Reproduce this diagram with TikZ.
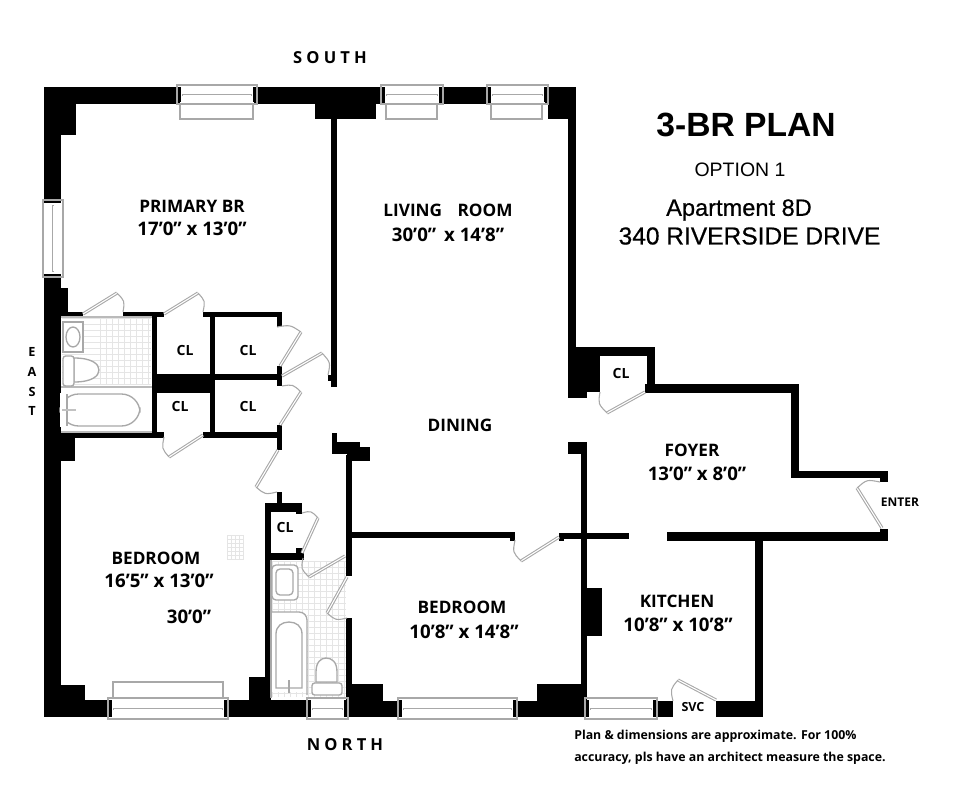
\documentclass[tikz,border=0pt]{standalone}
\usepackage{fontspec}
\usetikzlibrary{calc}
\setmainfont{Open Sans}
\newfontfamily\helv{Liberation Sans}
\newfontfamily\helvm{Liberation Sans}[FakeBold=0.6]
\newfontfamily\spaced{Open Sans}[LetterSpace=25]
\definecolor{fix}{gray}{0.66}
\definecolor{tilec}{gray}{0.9}
\tikzset{
  wall/.style={fill=black},
  fixture/.style={draw=fix,line width=1pt,fill=white},
  glass/.style={draw=fix,line width=1pt,fill=white},
  tile/.style={draw=tilec,line width=0.4pt},
  lab/.style={font=\bfseries\fontsize{12.9}{15}\selectfont,inner sep=0pt,text=black},
  dim/.style={font=\bfseries\fontsize{14}{16}\selectfont,inner sep=0pt,text=black},
  small/.style={font=\bfseries\fontsize{10.5}{12}\selectfont,inner sep=0pt,text=black},
  title/.style={font=\helv,inner sep=0pt,text=black},
}
% door: hinge, tip, end of swing
\newcommand\doorat[3]{%
  \draw[fix,line width=2.4pt] (#1) -- (#2);
  \draw[white,line width=0.8pt] (#1) -- (#2);
  \draw[fix,line width=0.8pt] (#2) .. controls ($(#2)!0.5!(#3)+0.065*(#2)+0.065*(#3)-0.13*(#1)$) .. (#3);
}
% horizontal window: x1,x2,y1,y2,sash y
\newcommand\winh[5]{%
  \fill[wall] (#1-1,#3+2) rectangle (#1+5,#4-2);
  \fill[wall] (#2-5,#3+2) rectangle (#2+1,#4-2);
  \fill[white] (#1+4,#3+1) rectangle (#2-4,#4-1);
  \draw[glass,fill=none] (#1,#3) rectangle (#2,#4);
  \draw[fix,line width=2.2pt] (#1+5,#5) -- (#2-5,#5);
  \draw[white,line width=0.5pt] (#1+6,#5) -- (#2-6,#5);
}
\begin{document}
\begin{tikzpicture}[x=0.75pt,y=-0.75pt]
\useasboundingbox (0,0) rectangle (980,800);
\fill[white] (0,0) rectangle (980,800);
% tiles
\foreach \x in {100,106,...,150} \draw[tile] (\x,318) -- (\x,385);
\foreach \y in {318,324,...,385} \draw[tile] (62,\y) -- (151,\y);
\foreach \x in {272,278,...,346} \draw[tile] (\x,561) -- (\x,697);
\foreach \y in {561,567,...,697} \draw[tile] (272,\y) -- (346,\y);
\foreach \x in {227,231,...,243} \draw[tile] (\x,535) -- (\x,560);
\foreach \y in {535,539,...,560} \draw[tile] (227,\y) -- (243,\y);
% top wall
\fill[wall] (44,87) rectangle (180,104);
\fill[wall] (44,87) rectangle (76,135);
\fill[wall] (254,87) rectangle (385,104);
\fill[wall] (315,87) rectangle (376,119);
\fill[wall] (437,87) rectangle (493,104);
\fill[wall] (545,87) rectangle (576,104);
\fill[wall] (548,87) rectangle (576,119);
% east wall
\fill[wall] (44,87) rectangle (61,717);
\fill[wall] (61,288) rectangle (68,317);
\fill[wall] (44,437) rectangle (75,461);
% partition primary / living
\fill[wall] (331,100) rectangle (337,387);
\fill[wall] (328,375) rectangle (337,381);
% living east wall + CL block
\fill[wall] (568,100) rectangle (576,350);
\fill[wall] (568,347) rectangle (655,356);
\fill[wall] (568,348) rectangle (600,392);
\fill[wall] (568,392) rectangle (587,398);
\fill[wall] (647,347) rectangle (655,392);
\fill[wall] (645,384) rectangle (799,393);
\fill[wall] (791,384) rectangle (799,478);
\fill[wall] (791,471) rectangle (888,478);
\fill[wall] (880,471) rectangle (888,482);
\fill[wall] (667,532) rectangle (888,541);
\fill[wall] (880,529) rectangle (888,541);
\fill[wall] (755,538) rectangle (763,717);
\fill[wall] (716,701) rectangle (763,717);
\fill[wall] (652,701) rectangle (673,717);
% kitchen/bedroom wall
\fill[wall] (581,442) rectangle (587,717);
\fill[wall] (568,442) rectangle (587,454);
\fill[wall] (587,588) rectangle (602,636);
\fill[wall] (559,533) rectangle (629,539);
\fill[wall] (559,533) rectangle (564,541);
% dining/bedroom wall
\fill[wall] (346,532) rectangle (515,538);
\fill[wall] (510,532) rectangle (515,541);
\fill[wall] (346,455) rectangle (352,576);
\fill[wall] (346,618) rectangle (352,717);
\fill[wall] (332,442) rectangle (360,454);
\fill[wall] (332,433) rectangle (337,444);
\fill[wall] (347,447) rectangle (370,461);
% north wall
\fill[wall] (44,700) rectangle (110,717);
\fill[wall] (44,685) rectangle (85,717);
\fill[wall] (224,700) rectangle (313,717);
\fill[wall] (249,677) rectangle (271,717);
\fill[wall] (344,701) rectangle (400,717);
\fill[wall] (347,684) rectangle (383,717);
\fill[wall] (512,701) rectangle (588,717);
\fill[wall] (537,684) rectangle (587,717);
% closets west
\fill[wall] (67,312) rectangle (83,317);
\fill[wall] (123,312) rectangle (164,317);
\fill[wall] (203,312) rectangle (282,317);
\fill[wall] (277,312) rectangle (282,327);
\fill[wall] (152,312) rectangle (157,438);
\fill[wall] (210,312) rectangle (215,438);
\fill[wall] (157,374) rectangle (215,393);
\fill[wall] (215,374) rectangle (282,380);
\fill[wall] (277,366) rectangle (282,386);
\fill[wall] (277,425) rectangle (282,450);
\fill[wall] (61,432) rectangle (164,438);
\fill[wall] (203,432) rectangle (282,438);
% small closet and second bath
\fill[wall] (277,492) rectangle (282,504);
\fill[wall] (265,503) rectangle (302,512);
\fill[wall] (296,503) rectangle (302,514);
\fill[wall] (265,503) rectangle (271,700);
\fill[wall] (265,553) rectangle (304,560);
\fill[wall] (296,548) rectangle (304,560);
% windows
\draw[glass] (180,104) rectangle (253,119);
\winh{177}{257}{85}{104}{95}
\draw[glass] (386,104) rectangle (437,119);
\winh{381}{443}{85}{104}{95}
\draw[glass] (491,104) rectangle (542,119);
\winh{487}{548}{85}{104}{95}
\draw[glass] (113,682) rectangle (223,698);
\winh{108}{228}{698}{719}{709}
\winh{307}{348}{698}{719}{709}
\winh{398}{517}{698}{719}{709}
\winh{585}{657}{698}{719}{709}
% east window
\fill[wall] (44,196) rectangle (61,204);
\fill[wall] (44,273) rectangle (61,281);
\fill[white] (44,203) rectangle (62,274);
\draw[glass,fill=none] (43,200) rectangle (63,277);
\draw[fix,line width=2.2pt] (53,205) -- (53,272);
\draw[white,line width=0.5pt] (53,206) -- (53,271);
% first bath fixtures
\draw[fix!80,line width=0.8pt] (61,317) -- (152,317) (61,432) -- (152,432);
\draw[fix!80,line width=0.8pt] (61,387) -- (152,387);
\draw[fixture] (63,322) rectangle (83,352);
\draw[fixture] (73,337) ellipse (7 and 10);
\draw[fixture] (74,358) .. controls (92,358) and (99,364) .. (99,370) .. controls (99,376) and (92,382) .. (74,382) -- cycle;
\draw[fixture,rounded corners=2pt] (63,356) rectangle (74,386);
\draw[fixture,rounded corners=14pt] (60,394) rectangle (140,426);
\fill[white] (60,393) rectangle (67,427);
\draw[fix,line width=1pt] (67,394) -- (67,426);
\draw[fix!70,line width=2pt] (62,410) -- (76,410);
% second bath fixtures
\draw[fix,line width=1pt] (271,560) -- (271,698);
\draw[fixture,rounded corners=3pt] (272,565) rectangle (298,600);
\draw[fixture,rounded corners=3pt] (276,569) rectangle (293,595);
\fill[white] (272,612) rectangle (307,692);
\draw[fix,line width=1pt] (271,612) -- (299,612) .. controls (304,612) and (307,616) .. (307,620) -- (307,695);
\draw[fixture,fill=white] (276,688) -- (276,634) .. controls (276,626) and (282,622) .. (289,622) .. controls (296,622) and (302,626) .. (302,634) -- (302,688) -- cycle;
\draw[fix,line width=1pt] (289,680) -- (289,693);
\draw[fixture] (316,682) -- (316,672) .. controls (316,662) and (321,658) .. (326,658) .. controls (332,658) and (337,662) .. (337,672) -- (337,682) -- cycle;
\draw[fixture,rounded corners=2pt] (312,683) rectangle (342,695);
% doors
\coordinate (h1) at (83,314); \coordinate (t1) at (117,293); \coordinate (e1) at (123,312);
\doorat{h1}{t1}{e1}
\coordinate (h2) at (164,314); \coordinate (t2) at (198,293); \coordinate (e2) at (203,312);
\doorat{h2}{t2}{e2}
\coordinate (h3) at (280,366); \coordinate (t3) at (301,332); \coordinate (e3) at (277,327);
\doorat{h3}{t3}{e3}
\coordinate (h4) at (282,376); \coordinate (t4) at (322,353); \coordinate (e4) at (328,375);
\doorat{h4}{t4}{e4}
\coordinate (h5) at (280,425); \coordinate (t5) at (301,392); \coordinate (e5) at (282,386);
\doorat{h5}{t5}{e5}
\coordinate (h6) at (203,435); \coordinate (t6) at (169,457); \coordinate (e6) at (164,437);
\doorat{h6}{t6}{e6}
\coordinate (h7) at (278,450); \coordinate (t7) at (256,487); \coordinate (e7) at (277,492);
\doorat{h7}{t7}{e7}
\coordinate (h8) at (302,553); \coordinate (t8) at (318,518); \coordinate (e8) at (302,513);
\doorat{h8}{t8}{e8}
\coordinate (h9) at (345,556); \coordinate (t9) at (309,577); \coordinate (e9) at (303,558);
\doorat{h9}{t9}{e9}
\coordinate (h10) at (347,577); \coordinate (t10) at (327,613); \coordinate (e10) at (347,618);
\doorat{h10}{t10}{e10}
\coordinate (h11) at (559,537); \coordinate (t11) at (521,561); \coordinate (e11) at (515,540);
\doorat{h11}{t11}{e11}
\coordinate (h12) at (645,392); \coordinate (t12) at (607,413); \coordinate (e12) at (600,392);
\doorat{h12}{t12}{e12}
\coordinate (h13) at (882,528); \coordinate (t13) at (857,488); \coordinate (e13) at (880,482);
\doorat{h13}{t13}{e13}
\coordinate (h14) at (716,700); \coordinate (t14) at (678,680); \coordinate (e14) at (673,701);
\doorat{h14}{t14}{e14}
% labels
\node[lab] (t-primary) at (192,206) {PRIMARY BR};
\node[dim] (d-primary) at (192,229) {17’0” x 13’0”};
\node[lab] (t-living) at (448,210) {LIVING\hspace{0.9em}ROOM};
\node[dim] (d-living) at (448,235) {30’0”\, x 14’8”};
\node[lab] (t-dining) at (460,425) {DINING};
\node[lab] (t-bed1) at (156,558) {BEDROOM};
\node[dim] (d-bed1) at (159,581) {16’5” x 13’0”};
\node[dim] (n-bed1) at (189,617) {30’0”};
\node[lab] (t-bed2) at (462,607) {BEDROOM};
\node[dim] (d-bed2) at (464,632) {10’8” x 14’8”};
\node[lab] (t-kit) at (677,601) {KITCHEN};
\node[dim] (d-kit) at (678,625) {10’8” x 10’8”};
\node[lab] (t-foy) at (692,450) {FOYER};
\node[dim] (d-foy) at (697,474) {13’0” x 8’0”};
\node[small] (c1) at (185,350) {CL};
\node[small] (c2) at (248,350) {CL};
\node[small] (c3) at (180,406) {CL};
\node[small] (c4) at (248,406) {CL};
\node[small] (c5) at (285,527) {CL};
\node[small] (c6) at (621,373) {CL};
\node[small,font=\bfseries\fontsize{9}{10}\selectfont] (enter) at (900,502) {ENTER};
\node[small,font=\bfseries\fontsize{9.4}{10}\selectfont] (svc) at (693,707) {SVC};
\node[lab,font=\spaced\bfseries\fontsize{12.4}{14}\selectfont] (south) at (330,58) {SOUTH};
\node[lab,font=\spaced\bfseries\fontsize{12.4}{14}\selectfont] (north) at (345,745) {NORTH};
\node[small,font=\bfseries\fontsize{9.5}{12}\selectfont] (ea) at (32,352) {E};
\node[small,font=\bfseries\fontsize{9.5}{12}\selectfont] (eb) at (32,372) {A};
\node[small,font=\bfseries\fontsize{9.5}{12}\selectfont] (ec) at (32,392) {S};
\node[small,font=\bfseries\fontsize{9.5}{12}\selectfont] (ed) at (32,411) {T};
\node[title,font=\helv\bfseries\fontsize{25.2}{28}\selectfont] (ttl) at (746,125) {3-BR PLAN};
\node[title,font=\helv\fontsize{14.6}{16}\selectfont] (opt) at (740,170) {OPTION 1};
\node[title,font=\helvm\fontsize{17.7}{19}\selectfont] (apt) at (739,210) {Apartment 8D};
\node[title,font=\helvm\fontsize{18.4}{19}\selectfont] (adr) at (749.5,236) {340 RIVERSIDE DRIVE};
\node[small,anchor=west,font=\fontsize{9.25}{10}\selectfont\bfseries] (n1) at (574,736) {Plan \& dimensions are approximate. For 100\%};
\node[small,anchor=west,font=\fontsize{9.25}{10}\selectfont\bfseries] (n2) at (574,758) {accuracy, pls have an architect measure the space.};
\end{tikzpicture}
\end{document}
